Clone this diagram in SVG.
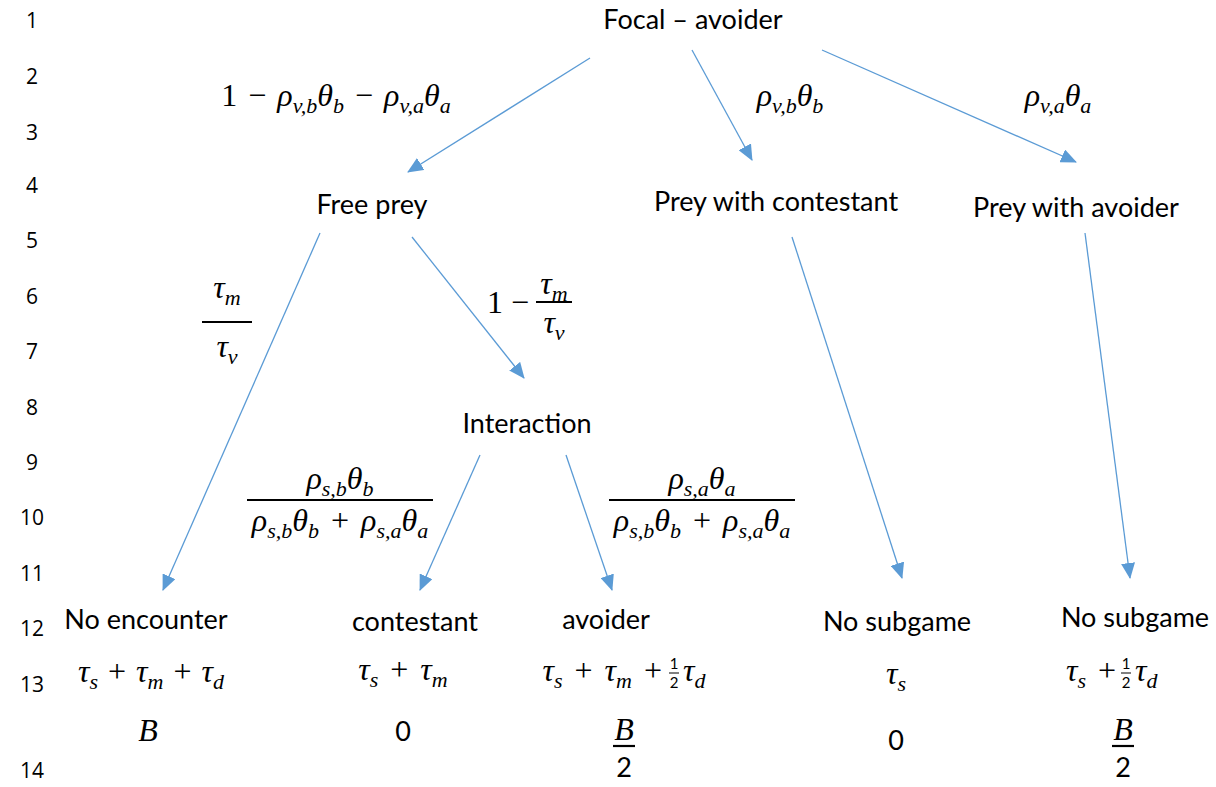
<svg xmlns="http://www.w3.org/2000/svg" width="1216" height="787" viewBox="0 0 1216 787">
<style>
.t{font-family:Lato,"Open Sans",sans-serif;font-size:27px;fill:#000;text-anchor:middle}
.n{font-family:"Open Sans","DejaVu Sans",sans-serif;font-size:21px;fill:#000;text-anchor:middle}
.m{font-family:"Liberation Serif","DejaVu Serif",serif;font-size:32px;fill:#000;text-anchor:middle}
.i{font-style:italic}
.s{font-size:22px;font-style:italic}
.f{font-family:Lato,"Open Sans",sans-serif;font-size:15px;fill:#000;text-anchor:middle}
.c{stroke:#5B9BD5;stroke-width:1.3;fill:none;marker-end:url(#ah)}
.bar{stroke:#000;stroke-width:2.2}
.hb{stroke:#000;stroke-width:1}
</style>
<defs>
<marker id="ah" markerUnits="userSpaceOnUse" markerWidth="16" markerHeight="14" viewBox="0 0 16 14" refX="15" refY="7" orient="auto">
<path d="M0,0 L16,7 L0,14 Z" fill="#5B9BD5"/>
</marker>
</defs>
<rect width="1216" height="787" fill="#fff"/>
<g id="line-numbers" class="n">
<text x="32" y="28">1</text>
<text x="32" y="84">2</text>
<text x="32" y="140">3</text>
<text x="32" y="193">4</text>
<text x="32" y="248">5</text>
<text x="32" y="304">6</text>
<text x="32" y="359">7</text>
<text x="32" y="415">8</text>
<text x="32" y="470">9</text>
<text x="32" y="525">10</text>
<text x="32" y="581">11</text>
<text x="32" y="636">12</text>
<text x="32" y="692">13</text>
<text x="32" y="778">14</text>
</g>
<g id="connectors">
<line class="c" x1="590" y1="58" x2="408" y2="172"/>
<line class="c" x1="692" y1="50" x2="752" y2="160"/>
<line class="c" x1="822" y1="50" x2="1076" y2="162"/>
<line class="c" x1="320" y1="233" x2="163" y2="590"/>
<line class="c" x1="412" y1="237" x2="524" y2="378"/>
<line class="c" x1="792" y1="237" x2="902" y2="578"/>
<line class="c" x1="1085" y1="233" x2="1130" y2="578"/>
<line class="c" x1="480" y1="455" x2="420" y2="590"/>
<line class="c" x1="566" y1="455" x2="612" y2="590"/>
</g>
<g id="edge-labels" class="m">
<text x="336" y="106">1<tspan dx="3"> − </tspan><tspan class="i" dx="3">ρ</tspan><tspan class="s" dy="7">v,b</tspan><tspan class="i" dy="-7">θ</tspan><tspan class="s" dy="7">b</tspan><tspan dy="-7" dx="3"> − </tspan><tspan class="i" dx="3">ρ</tspan><tspan class="s" dy="7">v,a</tspan><tspan class="i" dy="-7">θ</tspan><tspan class="s" dy="7">a</tspan></text>
<text x="790" y="106"><tspan class="i">ρ</tspan><tspan class="s" dy="7">v,b</tspan><tspan class="i" dy="-7">θ</tspan><tspan class="s" dy="7">b</tspan></text>
<text x="1058" y="106"><tspan class="i">ρ</tspan><tspan class="s" dy="7">v,a</tspan><tspan class="i" dy="-7">θ</tspan><tspan class="s" dy="7">a</tspan></text>
<text x="227" y="298"><tspan class="i">τ</tspan><tspan class="s" dy="7">m</tspan></text>
<line class="bar" x1="202" y1="322" x2="252" y2="322"/>
<text x="227" y="357"><tspan class="i">τ</tspan><tspan class="s" dy="7">v</tspan></text>
<text x="508" y="313">1 −</text>
<text x="554" y="294"><tspan class="i">τ</tspan><tspan class="s" dy="7">m</tspan></text>
<line class="bar" x1="536" y1="302" x2="572" y2="302"/>
<text x="554" y="333"><tspan class="i">τ</tspan><tspan class="s" dy="7">v</tspan></text>
<text x="340" y="489"><tspan class="i">ρ</tspan><tspan class="s" dy="7">s,b</tspan><tspan class="i" dy="-7">θ</tspan><tspan class="s" dy="7">b</tspan></text>
<line class="bar" x1="247" y1="500" x2="433" y2="500"/>
<text x="340" y="531"><tspan class="i">ρ</tspan><tspan class="s" dy="7">s,b</tspan><tspan class="i" dy="-7">θ</tspan><tspan class="s" dy="7">b</tspan><tspan dy="-7" dx="4"> + </tspan><tspan class="i" dx="4">ρ</tspan><tspan class="s" dy="7">s,a</tspan><tspan class="i" dy="-7">θ</tspan><tspan class="s" dy="7">a</tspan></text>
<text x="702" y="489"><tspan class="i">ρ</tspan><tspan class="s" dy="7">s,a</tspan><tspan class="i" dy="-7">θ</tspan><tspan class="s" dy="7">a</tspan></text>
<line class="bar" x1="609" y1="500" x2="795" y2="500"/>
<text x="702" y="531"><tspan class="i">ρ</tspan><tspan class="s" dy="7">s,b</tspan><tspan class="i" dy="-7">θ</tspan><tspan class="s" dy="7">b</tspan><tspan dy="-7" dx="4"> + </tspan><tspan class="i" dx="4">ρ</tspan><tspan class="s" dy="7">s,a</tspan><tspan class="i" dy="-7">θ</tspan><tspan class="s" dy="7">a</tspan></text>
</g>
<g id="focal"><text class="t" x="693" y="29">Focal – avoider</text></g>
<g id="free-prey"><text class="t" x="372" y="214">Free prey</text></g>
<g id="prey-contestant"><text class="t" x="776" y="211">Prey with contestant</text></g>
<g id="prey-avoider"><text class="t" x="1076" y="217">Prey with avoider</text></g>
<g id="interaction"><text class="t" x="527" y="433">Interaction</text></g>
<g id="no-encounter">
<text class="t" x="146" y="629">No encounter</text>
<text class="m" x="151" y="682"><tspan class="i">τ</tspan><tspan class="s" dy="7">s</tspan><tspan dy="-7" dx="2"> + </tspan><tspan class="i" dx="2">τ</tspan><tspan class="s" dy="7">m</tspan><tspan dy="-7" dx="2"> + </tspan><tspan class="i" dx="2">τ</tspan><tspan class="s" dy="7">d</tspan></text>
<text class="m i" x="148" y="741">B</text>
</g>
<g id="contestant">
<text class="t" x="415" y="631">contestant</text>
<text class="m" x="403" y="680"><tspan class="i">τ</tspan><tspan class="s" dy="7">s</tspan><tspan dy="-7" dx="4"> + </tspan><tspan class="i" dx="4">τ</tspan><tspan class="s" dy="7">m</tspan></text>
<text class="t" x="403" y="741">0</text>
</g>
<g id="avoider">
<text class="t" x="606" y="629">avoider</text>
<text class="m" x="662" y="681" style="text-anchor:end"><tspan class="i">τ</tspan><tspan class="s" dy="7">s</tspan><tspan dy="-7" dx="4"> + </tspan><tspan class="i" dx="4">τ</tspan><tspan class="s" dy="7">m</tspan><tspan dy="-7" dx="4"> +</tspan></text>
<text class="f" x="674" y="669">1</text>
<line class="hb" x1="669" y1="673" x2="679" y2="673"/>
<text class="f" x="674" y="688">2</text>
<text class="m" x="683" y="681" style="text-anchor:start"><tspan class="i">τ</tspan><tspan class="s" dy="7">d</tspan></text>
<text class="m i" x="624" y="740">B</text>
<line class="bar" x1="613" y1="746" x2="635" y2="746"/>
<text class="t" x="624" y="777">2</text>
</g>
<g id="no-subgame-1">
<text class="t" x="897" y="631">No subgame</text>
<text class="m" x="896" y="684"><tspan class="i">τ</tspan><tspan class="s" dy="7">s</tspan></text>
<text class="t" x="896" y="750">0</text>
</g>
<g id="no-subgame-2">
<text class="t" x="1135" y="627">No subgame</text>
<text class="m" x="1116" y="681" style="text-anchor:end"><tspan class="i">τ</tspan><tspan class="s" dy="7">s</tspan><tspan dy="-7" dx="4"> +</tspan></text>
<text class="f" x="1126" y="669">1</text>
<line class="hb" x1="1121" y1="673" x2="1131" y2="673"/>
<text class="f" x="1126" y="688">2</text>
<text class="m" x="1135" y="681" style="text-anchor:start"><tspan class="i">τ</tspan><tspan class="s" dy="7">d</tspan></text>
<text class="m i" x="1123" y="740">B</text>
<line class="bar" x1="1112" y1="746" x2="1134" y2="746"/>
<text class="t" x="1123" y="777">2</text>
</g>
</svg>
